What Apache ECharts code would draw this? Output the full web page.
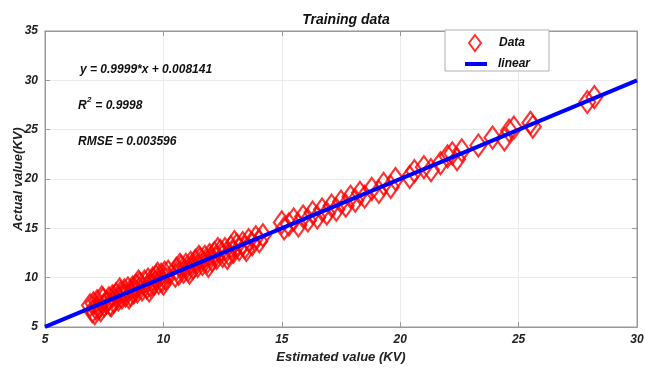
<!DOCTYPE html>
<html lang="en">
<head>
    <meta charset="UTF-8">
    <title>Training data</title>
    <script src="https://cdn.jsdelivr.net/npm/echarts@6/dist/echarts.min.js"></script>
    <style>
        html, body { margin: 0; padding: 0; background: #fff; }
        #chart { width: 645px; height: 369px; }
    </style>
</head>
<body>
<div id="chart"></div>
<script>
    // values
    let estimatedX = [
        6.9, 7.0, 7.05, 7.15, 7.2, 7.3, 7.35, 7.45, 7.5, 7.6, 7.7, 7.75, 7.85, 7.9, 8.0, 8.1, 8.2, 8.25, 8.35, 8.4,
        8.5, 8.6, 8.7, 8.75, 8.85, 8.9, 9.0, 9.1, 9.2, 9.3, 9.35, 9.45, 9.55, 9.6, 9.7, 9.8, 9.9, 9.95, 10.05, 10.1,
        10.2, 10.5, 10.55, 10.65, 10.75, 10.85, 10.95, 11.05, 11.15, 11.25, 11.35, 11.45, 11.55, 11.65, 11.75, 11.85,
        11.95, 12.05, 12.15, 12.25, 12.4, 12.5, 12.6, 12.75, 12.85, 12.95, 13.1, 13.2, 13.35, 13.45, 13.6, 13.75,
        13.9, 14.05, 14.2,
        7.1, 7.4, 7.8, 8.15, 8.55, 8.95, 9.4, 9.75, 10.0, 10.7, 11.1, 11.5, 11.9, 12.3, 12.7, 13.0, 13.5,
        15.0, 15.1, 15.3, 15.5, 15.7, 15.9, 16.1, 16.3, 16.5, 16.7, 16.9, 17.1, 17.3, 17.5, 17.7, 17.9, 18.1, 18.3,
        18.5, 18.8, 19.1, 19.3, 19.6, 19.8,
        20.4, 20.6, 21.0, 21.3, 21.7, 22.0, 22.2, 22.4, 22.6, 23.3, 23.9, 24.4, 24.6, 24.8, 25.5, 25.6,
        27.9, 28.2
    ];
    let actualY = [
        7.2, 6.6, 7.4, 6.9, 7.6, 7.0, 6.7, 7.8, 7.2, 7.5, 7.9, 7.3, 8.1, 7.6, 8.3, 7.8, 8.5, 8.0, 8.7, 8.2,
        8.9, 8.3, 9.0, 8.5, 9.2, 8.6, 9.4, 8.8, 9.6, 9.0, 9.8, 9.2, 9.9, 9.4, 10.1, 9.5, 10.3, 9.7, 10.5, 9.9,
        10.6, 10.2, 10.9, 10.4, 11.1, 10.6, 11.3, 10.8, 11.5, 11.0, 11.7, 11.2, 11.9, 11.4, 12.1, 11.6,
        12.3, 11.8, 12.5, 12.0, 12.7, 12.2, 12.9, 12.4, 13.1, 12.6, 13.3, 12.9, 13.5, 13.1, 13.8, 13.4,
        14.1, 13.7, 14.3,
        6.4, 8.0, 7.2, 8.8, 8.0, 9.6, 8.7, 10.4, 9.4, 11.3, 10.5, 12.1, 11.2, 12.9, 12.0, 13.6, 12.8,
        15.6, 15.0, 15.4, 15.9, 15.3, 16.2, 15.8, 16.6, 16.1, 16.9, 16.5, 17.3, 16.9, 17.7, 17.3, 18.2, 17.8, 18.6,
        18.2, 19.0, 18.7, 19.5, 19.2, 20.0,
        20.2, 20.8, 21.2, 20.9, 21.6, 22.3, 22.6, 22.0, 22.9, 23.4, 24.2, 24.0, 24.9, 25.2, 25.7, 25.3,
        27.8, 28.3
    ];
    // fitted line end points
    let fitX = [5, 30];
    let fitY = [5.008, 30.005];

    let xTicks = [5, 10, 15, 20, 25, 30];
    let yTicks = [5, 10, 15, 20, 25, 30, 35];

    let fontFam = '"Liberation Sans", Arial, sans-serif';
    let boldItalic = 'italic bold 12px "Liberation Sans", Arial, sans-serif';

    let scatterData = [];
    for (let i = 0; i < estimatedX.length; i++) {
        scatterData.push([estimatedX[i], actualY[i]]);
    }
    let fitData = [];
    for (let i = 0; i < fitX.length; i++) {
        fitData.push([fitX[i], fitY[i]]);
    }

    let chart = echarts.init(document.getElementById('chart'));
    let option = {
        animation: false,
        backgroundColor: '#fff',
        title: {
            text: 'Training data',
            left: 341,
            textAlign: 'center',
            top: 8,
            textStyle: {
                fontFamily: fontFam,
                fontSize: 14,
                fontWeight: 'bold',
                fontStyle: 'italic',
                color: '#111'
            }
        },
        grid: {
            left: 45,
            right: 8,
            top: 31,
            bottom: 42,
            outerBoundsMode: 'none',
            containLabel: false,
            show: true,
            borderColor: '#999',
            borderWidth: 1
        },
        legend: [
            {
                data: [{
                    name: 'Data',
                    icon: 'diamond',
                    itemStyle: {color: 'rgba(0,0,0,0)', borderColor: '#ff0000', borderWidth: 2}
                }],
                left: 468,
                top: 34,
                padding: 0,
                itemWidth: 12,
                itemHeight: 16,
                z: 10,
                selectedMode: false,
                textStyle: {
                    fontFamily: fontFam, fontSize: 12, fontWeight: 'bold', fontStyle: 'italic',
                    color: '#111', padding: [0, 0, 0, 13]
                }
            },
            {
                data: [{name: 'linear', icon: 'rect', itemStyle: {color: '#0000ff'}}],
                left: 465,
                top: 58,
                padding: 0,
                itemWidth: 22,
                itemHeight: 4,
                z: 10,
                selectedMode: false,
                textStyle: {
                    fontFamily: fontFam, fontSize: 12, fontWeight: 'bold', fontStyle: 'italic',
                    color: '#111', padding: [0, 0, 0, 6]
                }
            }
        ],
        graphic: [
            {
                type: 'rect',
                z: 5,
                shape: {x: 445, y: 30, width: 104, height: 41},
                style: {fill: '#fff', stroke: '#b0b0b0', lineWidth: 1}
            },
            {
                type: 'text',
                x: 80, y: 64, z: 5,
                style: {text: 'y = 0.9999*x + 0.008141', font: boldItalic, fill: '#111'}
            },
            {
                type: 'text',
                x: 78, y: 100, z: 5,
                style: {text: 'R', font: boldItalic, fill: '#111'}
            },
            {
                type: 'text',
                x: 87, y: 96, z: 5,
                style: {text: '2', font: 'italic bold 8px "Liberation Sans", Arial, sans-serif', fill: '#111'}
            },
            {
                type: 'text',
                x: 92, y: 100, z: 5,
                style: {text: ' = 0.9998', font: boldItalic, fill: '#111'}
            },
            {
                type: 'text',
                x: 78, y: 136, z: 5,
                style: {text: 'RMSE = 0.003596', font: boldItalic, fill: '#111'}
            }
        ],
        xAxis: [
            {
                type: 'value',
                min: xTicks[0],
                max: xTicks[xTicks.length - 1],
                interval: 5,
                name: 'Estimated value (KV)',
                nameLocation: 'middle',
                nameGap: 24,
                nameMoveOverlap: false,
                nameTextStyle: {
                    fontFamily: fontFam, fontSize: 13, fontWeight: 'bold', fontStyle: 'italic', color: '#222'
                },
                axisLine: {show: true, lineStyle: {color: '#999', width: 1}},
                axisTick: {show: true, inside: true, length: 5, lineStyle: {color: '#999'}},
                axisLabel: {
                    margin: 7,
                    fontFamily: fontFam, fontSize: 12, fontWeight: 'bold', fontStyle: 'italic', color: '#222'
                },
                splitLine: {show: true, lineStyle: {color: '#ebebeb', width: 1}}
            },
            {
                type: 'value',
                position: 'top',
                min: xTicks[0],
                max: xTicks[xTicks.length - 1],
                interval: 5,
                axisLine: {show: true, lineStyle: {color: '#999', width: 1}},
                axisTick: {show: true, inside: true, length: 5, lineStyle: {color: '#999'}},
                axisLabel: {show: false},
                splitLine: {show: false}
            }
        ],
        yAxis: [
            {
                type: 'value',
                min: yTicks[0],
                max: yTicks[yTicks.length - 1],
                interval: 5,
                name: 'Actual value(KV)',
                nameLocation: 'middle',
                nameGap: 20,
                nameMoveOverlap: false,
                nameTextStyle: {
                    fontFamily: fontFam, fontSize: 13, fontWeight: 'bold', fontStyle: 'italic', color: '#222'
                },
                axisLine: {show: true, lineStyle: {color: '#999', width: 1}},
                axisTick: {show: true, inside: true, length: 5, lineStyle: {color: '#999'}},
                axisLabel: {
                    margin: 7,
                    fontFamily: fontFam, fontSize: 12, fontWeight: 'bold', fontStyle: 'italic', color: '#222'
                },
                splitLine: {show: true, lineStyle: {color: '#ebebeb', width: 1}}
            },
            {
                type: 'value',
                position: 'right',
                min: yTicks[0],
                max: yTicks[yTicks.length - 1],
                interval: 5,
                axisLine: {show: true, lineStyle: {color: '#999', width: 1}},
                axisTick: {show: true, inside: true, length: 5, lineStyle: {color: '#999'}},
                axisLabel: {show: false},
                splitLine: {show: false}
            }
        ],
        series: [
            {
                name: 'Data',
                type: 'scatter',
                symbol: 'diamond',
                symbolSize: [16, 22],
                z: 2,
                itemStyle: {
                    color: 'rgba(0,0,0,0)',
                    borderColor: '#ff0000',
                    borderWidth: 2.2
                },
                data: scatterData
            },
            {
                name: 'linear',
                type: 'line',
                symbol: 'none',
                z: 3,
                lineStyle: {color: '#0000ff', width: 4},
                itemStyle: {color: '#0000ff'},
                data: fitData
            }
        ]
    };
    chart.setOption(option);
</script>
</body>
</html>
